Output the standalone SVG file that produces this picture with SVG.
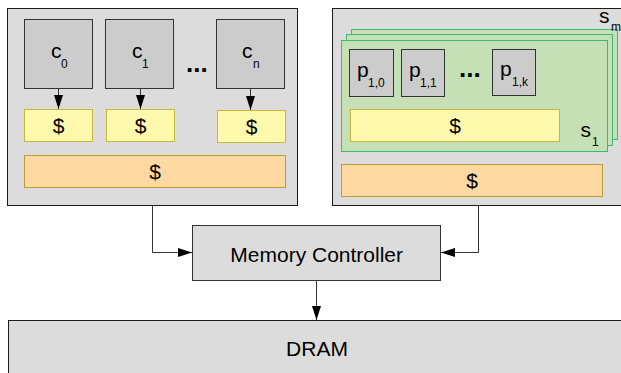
<svg xmlns="http://www.w3.org/2000/svg" width="621" height="373" viewBox="0 0 621 373">
<defs>
<marker id="ah" markerWidth="14" markerHeight="10" refX="14" refY="5" orient="auto" markerUnits="userSpaceOnUse">
<path d="M0,0.5 L14,5 L0,9.5 Z" fill="#000"/>
</marker>
<style>
.box{fill:#dcdcdc;stroke:#1a1a1a;stroke-width:1}
.core{fill:#cccccc;stroke:#333;stroke-width:1}
.l1{fill:#fff9ae;stroke:#c8b83a;stroke-width:1}
.l2{fill:#ffd9a1;stroke:#b9a030;stroke-width:1}
.grp{fill:#c5e0b4;stroke:#3cb878;stroke-width:1}
text{font-family:"Liberation Sans",Arial,sans-serif;fill:#000}
.big{font-size:21px}
.sub{font-size:12px}
.dots{font-size:26px;font-weight:bold}
.conn{fill:none;stroke:#333;stroke-width:1}
</style>
</defs>
<g id="cpu">
<rect class="box" x="7.5" y="8.5" width="290" height="197"/>
</g>
<g id="c0">
<rect class="core" x="24.5" y="19.5" width="68" height="69"/>
<text x="51" y="58" class="big">c</text><text x="61" y="68" class="sub">0</text>
</g>
<g id="c1">
<rect class="core" x="105.5" y="19.5" width="68" height="69"/>
<text x="132" y="58" class="big">c</text><text x="142" y="68" class="sub">1</text>
</g>
<g id="cn">
<rect class="core" x="216.5" y="19.5" width="68" height="69"/>
<text x="242" y="58" class="big">c</text><text x="253" y="68" class="sub">n</text>
</g>
<g id="dots1"><text x="186" y="72" class="dots">...</text></g>
<g id="l1c0"><rect class="l1" x="24.5" y="109.5" width="68" height="32"/><text x="58.5" y="133" class="big" text-anchor="middle">$</text></g>
<g id="l1c1"><rect class="l1" x="106.5" y="109.5" width="68" height="32"/><text x="140.5" y="133" class="big" text-anchor="middle">$</text></g>
<g id="l1cn"><rect class="l1" x="217.5" y="110.5" width="68" height="32"/><text x="251.5" y="134" class="big" text-anchor="middle">$</text></g>
<g id="l2cpu"><rect class="l2" x="24.5" y="155.5" width="261" height="32"/><text x="155" y="179" class="big" text-anchor="middle">$</text></g>

<g id="accel">
<rect class="box" x="332.5" y="8.5" width="295" height="197"/>
</g>
<g id="sm">
<rect class="grp" x="351.5" y="29.5" width="266" height="110"/>
<rect class="grp" x="346.5" y="34.5" width="266" height="111"/>
<text x="599" y="22.7" class="big">s</text><text x="611" y="31" class="sub">m</text>
</g>
<g id="s1">
<rect class="grp" x="341.5" y="40.5" width="266" height="111"/>
<text x="580.5" y="137.3" class="big">s</text><text x="592" y="146" class="sub">1</text>
</g>
<g id="p10"><rect class="core" x="349.5" y="49.5" width="44" height="47"/><text x="357" y="76.7" class="big">p</text><text x="368" y="86.7" class="sub">1,0</text></g>
<g id="p11"><rect class="core" x="401.5" y="49.5" width="43" height="47"/><text x="409" y="76.7" class="big">p</text><text x="420" y="86.7" class="sub">1,1</text></g>
<g id="p1k"><rect class="core" x="492.5" y="49.5" width="43" height="46"/><text x="500" y="76" class="big">p</text><text x="512" y="86" class="sub">1,k</text></g>
<g id="dots2"><text x="459" y="77" class="dots">...</text></g>
<g id="l1s1"><rect class="l1" x="350.5" y="109.5" width="209" height="32"/><text x="455" y="133" class="big" text-anchor="middle">$</text></g>
<g id="l2acc"><rect class="l2" x="341.5" y="164.5" width="261" height="32"/><text x="472" y="188" class="big" text-anchor="middle">$</text></g>

<g id="mc"><rect class="box" x="192.5" y="225.5" width="248" height="55" style="stroke:#333"/><text x="316.7" y="261.5" class="big" text-anchor="middle">Memory Controller</text></g>
<g id="dram"><rect class="box" x="8.5" y="320.5" width="620" height="60"/><text x="317" y="356" class="big" text-anchor="middle">DRAM</text></g>

<g id="connectors">
<path class="conn" d="M58.5,89 V109" marker-end="url(#ah)"/>
<path class="conn" d="M140.5,89 V109" marker-end="url(#ah)"/>
<path class="conn" d="M250.5,89 V110" marker-end="url(#ah)"/>
<path class="conn" d="M152.5,206 V252.5 H192" marker-end="url(#ah)"/>
<path class="conn" d="M478.5,206 V252.5 H441" marker-end="url(#ah)"/>
<path class="conn" d="M316.5,281 V320" marker-end="url(#ah)"/>
</g>
</svg>
